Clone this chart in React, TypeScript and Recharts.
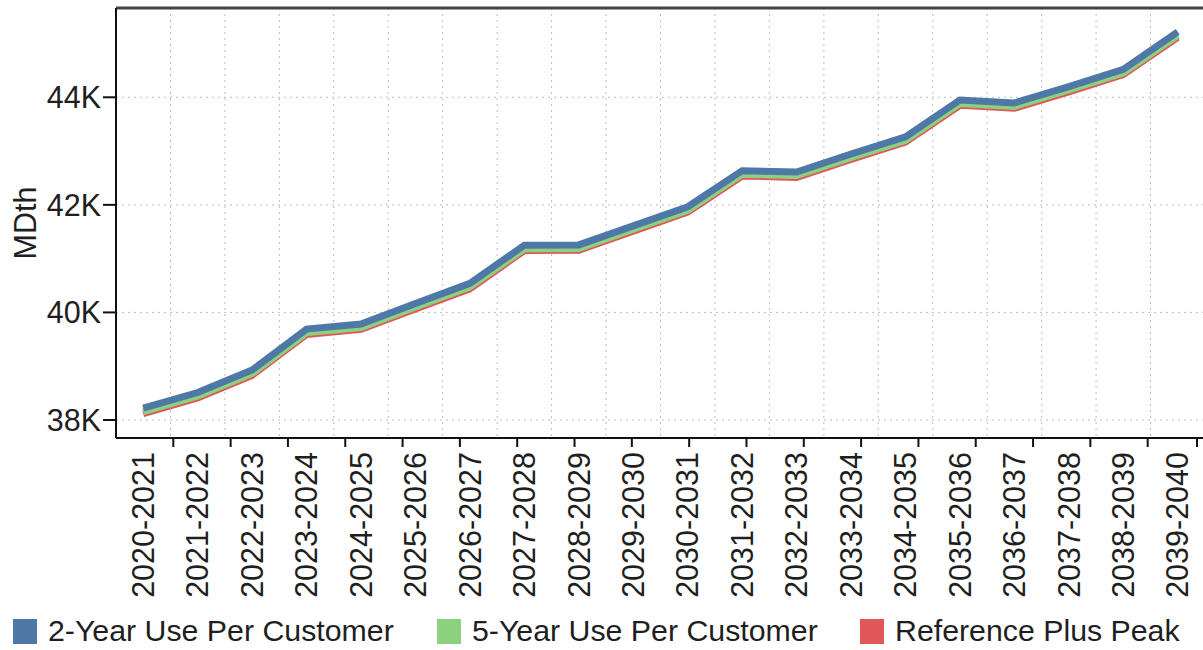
import { LineChart, Line, XAxis, YAxis, CartesianGrid, ReferenceLine } from 'recharts'

// ── Data ───────────────────────────────────────────────────────────────────────

const PERIODS = [
  '2020-2021', '2021-2022', '2022-2023', '2023-2024', '2024-2025',
  '2025-2026', '2026-2027', '2027-2028', '2028-2029', '2029-2030',
  '2030-2031', '2031-2032', '2032-2033', '2033-2034', '2034-2035',
  '2035-2036', '2036-2037', '2037-2038', '2038-2039', '2039-2040',
]

const TWO_YEAR = [
  38220, 38510, 38930, 39690, 39785, 40165, 40540, 41250, 41255, 41610,
  41965, 42635, 42610, 42945, 43265, 43950, 43895, 44200, 44520, 45215,
]

const FIVE_YEAR = [
  38155, 38445, 38865, 39625, 39720, 40100, 40475, 41185, 41190, 41545,
  41900, 42570, 42545, 42880, 43200, 43885, 43830, 44135, 44455, 45150,
]

const REF_PEAK = [
  38120, 38410, 38830, 39590, 39685, 40065, 40440, 41150, 41155, 41510,
  41865, 42535, 42510, 42845, 43165, 43850, 43795, 44100, 44420, 45115,
]

const Y_TICKS = [38000, 40000, 42000, 44000]
const Y_DOMAIN: [number, number] = [37665, 45660]
const EDGE_TICKS = PERIODS.slice(1).map((_, i) => i + 1)

const SERIES = [
  { key: 'twoYear',  name: '2-Year Use Per Customer', color: '#4E79A7' },
  { key: 'fiveYear', name: '5-Year Use Per Customer', color: '#8CD17D' },
  { key: 'refPeak',  name: 'Reference Plus Peak',     color: '#E15759' },
]

const data = PERIODS.map((period, i) => ({
  period,
  twoYear: TWO_YEAR[i],
  fiveYear: FIVE_YEAR[i],
  refPeak: REF_PEAK[i],
}))

// ── Styles ─────────────────────────────────────────────────────────────────────

const FONT = '"Liberation Sans", Arial, sans-serif'
const INK = '#1f1f1f'
const FONT_SIZE = 30.5
const LEGEND_LEFT = [13, 437, 860]

function fmtK(v: number): string {
  return `${v / 1000}K`
}

// ── Ticks ──────────────────────────────────────────────────────────────────────

// eslint-disable-next-line @typescript-eslint/no-explicit-any
function EdgeTick({ x, y }: any) {
  return <line x1={x} x2={x} y1={y} y2={y + 9} stroke="#111" strokeWidth={2} />
}

// eslint-disable-next-line @typescript-eslint/no-explicit-any
function PeriodTick({ x, y, payload }: any) {
  return (
    <g transform={`translate(${x},${y})`}>
      <text
        transform="rotate(-90)"
        textAnchor="end"
        dy="0.35em"
        fill={INK}
        fontSize={FONT_SIZE}
        fontFamily={FONT}
      >
        {payload.value}
      </text>
    </g>
  )
}

// eslint-disable-next-line @typescript-eslint/no-explicit-any
function boundaryLines({ offset }: any): number[] {
  const step = offset.width / PERIODS.length
  return EDGE_TICKS.map((k) => offset.left + k * step)
}

// ── Legend ─────────────────────────────────────────────────────────────────────

function LegendRow() {
  return (
    <div style={{ position: 'relative', height: 38 }}>
      {SERIES.map((s, i) => (
        <div
          key={s.key}
          style={{ position: 'absolute', left: LEGEND_LEFT[i], top: 0, height: 38, display: 'flex', alignItems: 'center' }}
        >
          <span style={{ width: 24, height: 25, backgroundColor: s.color, display: 'inline-block' }} />
          <span style={{ marginLeft: 11, fontSize: 30.3, color: INK, lineHeight: '38px', whiteSpace: 'nowrap' }}>
            {s.name}
          </span>
        </div>
      ))}
    </div>
  )
}

// ── Component ──────────────────────────────────────────────────────────────────

export default function App() {
  return (
    <div
      style={{
        position: 'absolute',
        left: 0,
        top: 0,
        width: 1203,
        height: 650,
        overflow: 'hidden',
        background: '#fff',
        fontFamily: FONT,
      }}
    >
      <LineChart
        width={1205}
        height={612}
        data={data}
        margin={{ top: 8, right: 0, bottom: 0, left: 0 }}
        style={{ fontFamily: FONT }}
      >
        <XAxis
          xAxisId="bCat"
          dataKey="period"
          scale="band"
          interval={0}
          height={162}
          axisLine={false}
          tickLine={false}
          tickSize={0}
          tickMargin={2}
          tick={<PeriodTick />}
        />
        {/* boundary ticks between categories */}
        <XAxis
          xAxisId="aEdge"
          type="number"
          domain={[0, PERIODS.length]}
          ticks={EDGE_TICKS}
          allowDataOverflow
          tick={<EdgeTick />}
          tickLine={false}
          tickSize={0}
          tickMargin={0}
          height={12}
          axisLine={{ stroke: '#111', strokeWidth: 2 }}
        />
        <YAxis
          domain={Y_DOMAIN}
          ticks={Y_TICKS}
          allowDataOverflow
          width={116}
          tickFormatter={fmtK}
          tickSize={13}
          tickMargin={2}
          tick={{ fill: INK, fontSize: FONT_SIZE }}
          axisLine={{ stroke: '#111', strokeWidth: 2 }}
          tickLine={{ stroke: '#111', strokeWidth: 2 }}
          label={{ value: 'MDth', angle: -90, position: 'center', dx: -33, fill: INK, fontSize: FONT_SIZE }}
        />

        <CartesianGrid
          xAxisId="aEdge"
          stroke="#bdbdbd"
          strokeDasharray="2 4"
          verticalCoordinatesGenerator={boundaryLines}
        />

        <ReferenceLine xAxisId="bCat" y={Y_DOMAIN[1]} stroke="#444" strokeWidth={3} />

        {[...SERIES].reverse().map((s) => (
          <Line
            key={s.key}
            xAxisId="bCat"
            type="linear"
            dataKey={s.key}
            name={s.name}
            stroke={s.color}
            strokeWidth={7}
            dot={false}
            activeDot={false}
            isAnimationActive={false}
          />
        ))}
      </LineChart>
      <LegendRow />
    </div>
  )
}
